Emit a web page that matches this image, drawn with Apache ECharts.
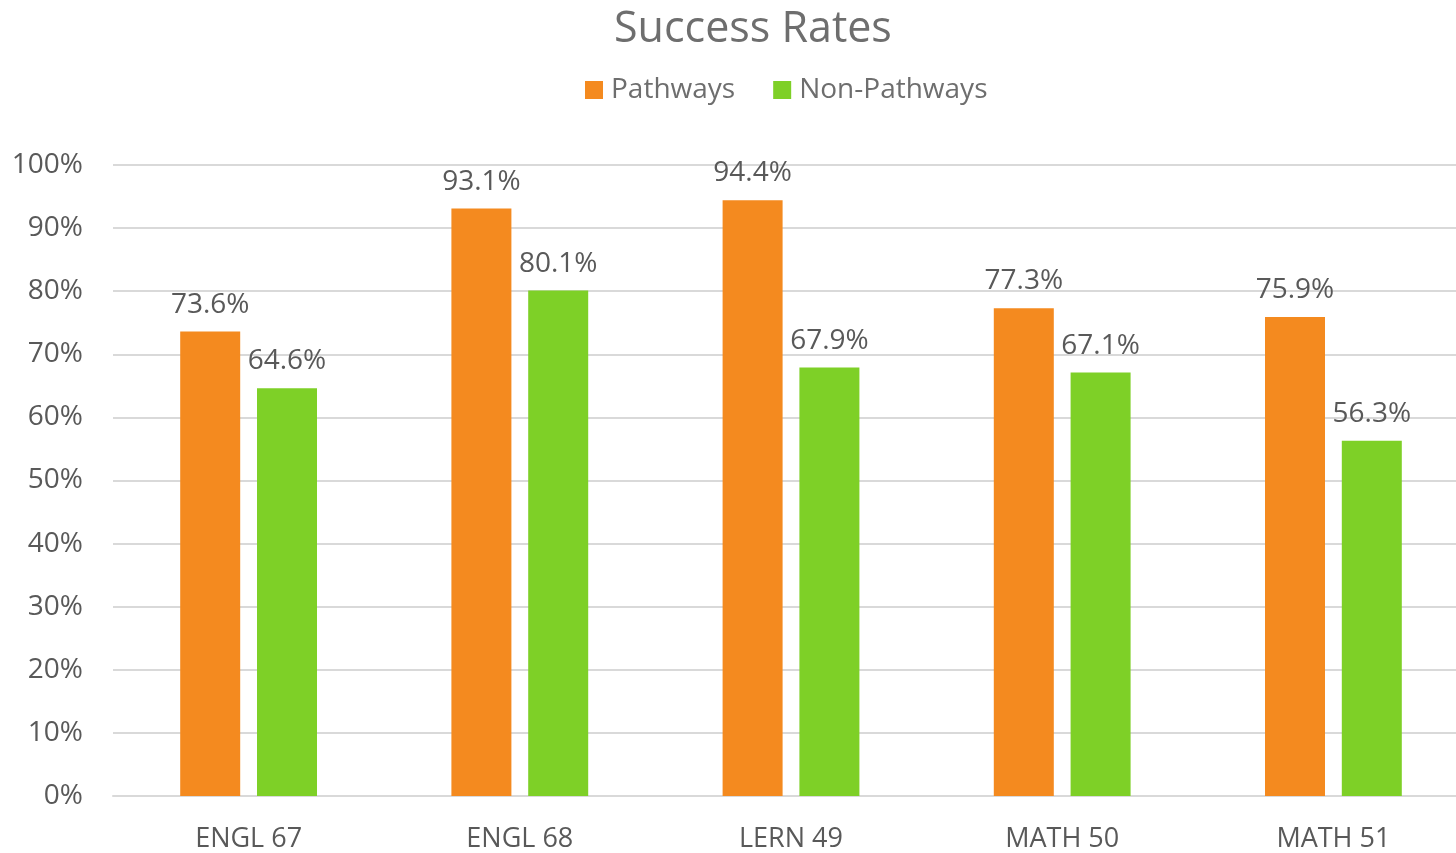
<!DOCTYPE html>
<html>
<head>
<meta charset="utf-8">
<script src="https://cdn.jsdelivr.net/npm/echarts@6/dist/echarts.min.js"></script>
<style>
html,body{margin:0;padding:0;background:#fff;overflow:hidden;}
#c{width:1469px;height:853px;}
</style>
</head>
<body>
<div id="c"></div>
<script>
const categories = ['ENGL 67', 'ENGL 68', 'LERN 49', 'MATH 50', 'MATH 51'];
const pathways = [73.6, 93.1, 94.4, 77.3, 75.9];
const nonPathways = [64.6, 80.1, 67.9, 67.1, 56.3];
const seriesNames = ['Pathways', 'Non-Pathways'];

const FONT = '"Open Sans", "Noto Sans", sans-serif';
const chart = echarts.init(document.getElementById('c'));
chart.setOption({
  animation: false,
  textStyle: { fontFamily: FONT },
  title: {
    text: 'Success Rates',
    left: 609,
    top: 3,
    textStyle: { fontFamily: FONT, fontSize: 43, fontWeight: 'normal', color: '#6e6e6e' }
  },
  legend: {
    top: 71,
    left: 580,
    itemWidth: 18,
    itemHeight: 18,
    itemGap: 38,
    icon: 'rect',
    textStyle: { fontFamily: FONT, fontSize: 28, color: '#6e6e6e', padding: [0, 0, 0, 3] },
    data: seriesNames
  },
  grid: { left: 113, right: 0, top: 165, bottom: 56, containLabel: false },
  xAxis: {
    type: 'category',
    data: categories,
    axisLine: { lineStyle: { color: '#d9d9d9', width: 2 } },
    axisTick: { show: false },
    axisLabel: { fontFamily: FONT, fontSize: 27, color: '#595959', margin: 30 }
  },
  yAxis: {
    type: 'value',
    min: 0,
    max: 100,
    interval: 10,
    axisLine: { show: false },
    axisTick: { show: false },
    splitLine: { lineStyle: { color: '#d9d9d9', width: 2 } },
    axisLabel: { fontFamily: FONT, fontSize: 28, color: '#595959', margin: 30, formatter: '{value}%' }
  },
  series: [
    {
      name: seriesNames[0],
      type: 'bar',
      data: pathways,
      barWidth: 60,
      barGap: '28%',
      itemStyle: { color: '#F48A1F' },
      label: { show: true, position: 'top', distance: 13, fontFamily: FONT, fontSize: 28, color: '#595959', formatter: p => p.value.toFixed(1) + '%' }
    },
    {
      name: seriesNames[1],
      type: 'bar',
      data: nonPathways,
      barWidth: 60,
      itemStyle: { color: '#7ED027' },
      label: { show: true, position: 'top', distance: 13, fontFamily: FONT, fontSize: 28, color: '#595959', formatter: p => p.value.toFixed(1) + '%' }
    }
  ]
});
</script>
</body>
</html>
